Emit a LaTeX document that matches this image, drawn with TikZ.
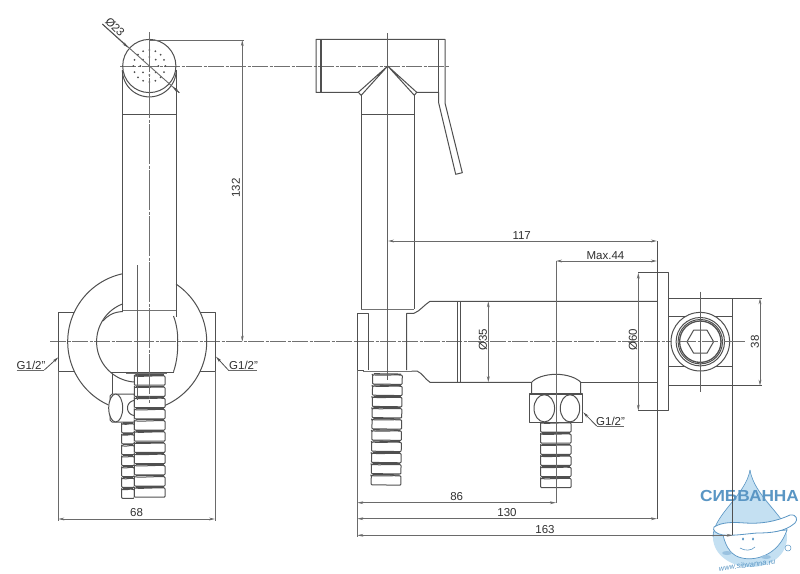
\documentclass[tikz,border=0pt]{standalone}
\usepackage{fontspec}
\setmainfont{Liberation Sans}
\usetikzlibrary{arrows.meta}
\definecolor{ln}{HTML}{505050}
\definecolor{cl}{HTML}{707070}
\definecolor{txt}{HTML}{303030}
\definecolor{lblue}{HTML}{C4E0F2}
\definecolor{mblue}{HTML}{5A96C4}
\tikzset{
  part/.style={draw=ln,line width=1pt,line join=round},
  heavy/.style={draw=ln,line width=1.6pt},
  centre/.style={draw=cl,line width=0.9pt,dash pattern=on 16pt off 1.5pt on 3pt off 1.5pt},
  ext/.style={draw=ln!85,line width=0.9pt},
  dimline/.style={draw=ln!85,line width=0.9pt,{Stealth[length=6pt,width=2.8pt]}-{Stealth[length=6pt,width=2.8pt]}},
  lead/.style={draw=ln,line width=0.8pt,-{Stealth[length=6pt,width=2.8pt]}},
  dimtext/.style={text=txt,font=\fontsize{11.5}{12}\selectfont,inner sep=0pt},
}
% mypart: arc in y-down picture coordinates
\newcommand\myarc[5]{plot[domain=#4:#5,samples=70] ({#1+#3*cos(\x)},{#2+#3*sin(\x)})}
% hose: x1 x2 ytop count pitch
\newcommand\myhose[5]{%
  \foreach \i in {1,...,#4}{%
    \pgfmathsetmacro\ya{#3+(\i-1)*#5}
    \pgfmathsetmacro\yb{\ya+#5-2}
    \fill[white] (#1,\ya) rectangle (#2,\yb+2);
    \draw[part,line width=1.3pt] (#1+1.2,\ya-1) -- (#2-1.2,\ya-1);
    \draw[part,line width=1pt,rounded corners=0.8pt] (#1,\ya) -- (#1,\yb) -- (#2,\yb) -- (#2,\ya) .. controls (#2-8,\ya-0.6) and (#1+8,\ya+0.8) .. cycle;
  }}
\begin{document}
\begin{tikzpicture}[x=1pt,y=-1pt]
\useasboundingbox (0,0) rectangle (800,573);
\fill[white] (0,0) rectangle (800,573);

% --- watermark logo
\fill[lblue] (750,470) .. controls (746,495) and (713,515) .. (713,537) .. controls (713,556) and (733,567) .. (750,567) .. controls (770,567) and (787,556) .. (787,537) .. controls (787,515) and (754,495) .. (750,470) -- cycle;
\draw[mblue,line width=0.6pt] (750,470) .. controls (746,495) and (713,515) .. (713,537);
\draw[mblue,line width=0.6pt] (750,470) .. controls (754,495) and (783,515) .. (787,530);
\draw[mblue,fill=white,line width=0.7pt] (723,535) .. controls (726,548) and (732,556) .. (742,558) .. controls (755,561) and (778,556) .. (787,530) -- cycle;
\draw[mblue,fill=white,line width=0.8pt] (714,527) .. controls (722,522) and (733,522) .. (745,523) .. controls (760,524) and (775,522) .. (790,515) .. controls (797,514) and (798,520) .. (795,523) .. controls (785,532) and (770,533) .. (757,533) .. controls (745,534) and (733,536) .. (723,535) .. controls (716,534) and (712,530) .. (714,527) -- cycle;
\fill[mblue] (743,539) ellipse [x radius=1.1,y radius=1.6] (753,539) ellipse [x radius=1.1,y radius=1.6];
\draw[mblue,line width=0.6pt] (740,548) .. controls (745,551) and (751,551) .. (755,547);
\fill[lblue!60!mblue] (727,553) ellipse [x radius=5,y radius=2] (766,557) ellipse [x radius=5,y radius=2];
\fill[white] (788,548) circle [radius=3];
\draw[mblue,line width=0.5pt] (788,548) circle [radius=3];
\node[rotate=7,text=mblue,font=\fontsize{7.5}{8}\selectfont\itshape,inner sep=0pt] (logourl) at (747,565) {www.sibvanna.ru};
\node[text=mblue,font=\fontsize{16}{17}\bfseries\selectfont,inner sep=0pt,xscale=1.08] (logoname) at (749.5,496) {СИБВАННА};

% --- centre lines
\draw[centre] (50,341.7) -- (745,341.7);
\draw[centre] (120,66) -- (450,66);

% --- LEFT VIEW: wall circle, tabs
\draw[part] \myarc{137.2}{341.7}{69.5}{114.6}{258};
\draw[part] \myarc{137.2}{341.7}{69.5}{-56}{66.4};
\draw[part] (74.2,312.3) -- (58.3,312.3) -- (58.3,371) -- (74.2,371);
\draw[part] (200.2,312.3) -- (215,312.3) -- (215,371) -- (200.2,371);
\draw[ext] (58.3,371) -- (58.3,521) (215,371) -- (215,521);

% head
\draw[part] (149.3,66) circle [radius=26.6];
\draw[part] \myarc{149.3}{70}{26.9}{0}{180};
\foreach \a in {0,22.5,...,337.5}{\fill[ln] ({149.3+16*cos(\a)},{66+16*sin(\a)}) circle [radius=1];}
\foreach \a in {0,45,...,315}{\fill[ln] ({149.3+9*cos(\a)},{66+9*sin(\a)}) circle [radius=1];}
% handle
\draw[part] (122.8,70) -- (122.8,312) (176,70) -- (176,317);
\draw[part] (122.8,114) -- (176,114);
\draw[heavy,draw=ln!80] (122.8,310.5) -- (175.5,310.5);

% sphere
\draw[part] \myarc{137}{341.7}{40.4}{94.5}{249.6};
\draw[part] (122.8,311.5) .. controls (113,312) and (107,316) .. (103,321);
\draw[part] (173.5,316) .. controls (177,325) and (178,335) .. (177.7,342) .. controls (178,350) and (177,362) .. (173.5,371.7);
\draw[part] (111,372) -- (173.5,372);
\draw[heavy,draw=ln!80] (126,373.5) -- (167,373.5);
\draw[part] (112.7,374) -- (112.7,394);

% back hose & fitting
\myhose{121.7}{134.3}{424}{7}{10.9}
\draw[part,fill=white] (110,396) -- (112,394) -- (134.3,394) -- (134.3,422) -- (112,422) -- (110,420) -- cycle;
\draw[part,fill=white] (115.7,408) ellipse [x radius=7,y radius=14];
\draw[part] \myarc{135}{408}{7.5}{80}{280};
% front hose
\draw[heavy,draw=ln!80] (135,375) -- (164,375);
\myhose{134.3}{165}{376}{11}{11.2}
\draw[ln!90,line width=0.9pt] (137,265) -- (137,400);
\draw[centre,dash pattern=on 40pt off 1.5pt on 3pt off 1.5pt] (149.3,32) -- (149.3,403);

% 23 dia
\coordinate (dA) at (102.3,24);
\coordinate (dB) at (128,47.5);
\coordinate (dC) at (172.5,86.5);
\coordinate (dD) at (179.3,92.7);
\draw[ext] (dA) -- (dD);
\draw[lead] (dA) -- (dB);
\draw[lead] (dD) -- (dC);
\node[dimtext,rotate=-45] (t23) at (115,27) {Ø23};

% 132
\draw[ext] (149.3,40) -- (244,40);
\coordinate (d132a) at (242.3,40);
\coordinate (d132b) at (242.3,341.7);
\draw[dimline] (d132a) -- (d132b);
\node[dimtext,rotate=90] (t132) at (236,188) {132};

% 68
\coordinate (d68a) at (58.3,519);
\coordinate (d68b) at (215,519);
\draw[dimline] (d68a) -- (d68b);
\node[dimtext] (t68) at (136.5,513) {68};

% G1/2 left / right
\node[dimtext,anchor=south west] (g1) at (16.5,369.5) {G1/2"};
\coordinate (g1a) at (44.3,370);
\coordinate (g1b) at (58.3,357.3);
\draw[ext] (16.7,370) -- (g1a);
\draw[lead] (g1a) -- (g1b);
\node[dimtext,anchor=south west] (g2) at (229,369.5) {G1/2"};
\coordinate (g2a) at (228.3,370);
\coordinate (g2b) at (216,356.7);
\draw[ext] (g2a) -- (256.7,370);
\draw[lead] (g2a) -- (g2b);

% --- SIDE VIEW: head
\draw[part] (358.3,92.3) -- (316,92.3) -- (316,39.3) -- (445,39.3) -- (445,103) -- (462.3,172.7) -- (455.7,174.3) -- (438.7,103) -- (438.7,92.3) -- (416.7,92.3);
\draw[part,line width=1.5pt] (321,39.3) -- (321,92.3);
\draw[part,line width=1.5pt] (438.7,39.3) -- (438.7,92.3);
\draw[part] (387.7,66) -- (358.3,92.3) -- (361.2,95.3) -- (387.7,66) -- (416.7,92.3) -- (414.3,95.3) -- cycle;
\draw[part] (361.2,95.3) -- (361.2,309) (414.3,95.3) -- (414.3,309);
\draw[part] (361.2,114.3) -- (414.3,114.3);
\draw[heavy,draw=ln!80] (361.2,309.5) -- (414.3,309.5);

% block
\draw[part] (357.3,370) -- (357.3,313.3) -- (368.3,313.3) -- (368.3,370);
\draw[part] (406.7,370) -- (406.7,313.3) -- (414,313.3) .. controls (420,311) and (424,305) .. (430,301.3) -- (657,301.3);
\draw[part] (457.7,301.3) -- (457.7,382.3) (460.3,301.3) -- (460.3,382.3);
\draw[part] (411.7,371) -- (417,371) .. controls (422,373) and (425,379) .. (430,382.3) -- (531.7,382.3);
\draw[part] (580.7,382.3) -- (657,382.3);
\draw[part] (357.3,370.5) -- (364,370.5);
\draw[heavy,draw=ln!80] (363,371.5) -- (412,371.5);
\draw[ext] (357.3,370) -- (357.3,536.5);

% side hose
\begin{scope}[rotate around={-0.8:(387.5,374)}]
\myhose{372.7}{402.3}{375}{10}{11.2}
\end{scope}
\draw[ln!90,line width=0.9pt] (387.7,33) -- (387.7,380);

% lower fitting
\draw[part] (531.7,394) -- (531.7,382.3) .. controls (535,378) and (545,374.3) .. (556,374.3) .. controls (567,374.3) and (577,378) .. (580.7,382.3) -- (580.7,394);
\myhose{540.7}{571}{423}{6}{11.1}
\draw[part,fill=white,line width=1.1pt] (529.7,394) -- (582.7,394) -- (582.7,422.3) -- (529.7,422.3) -- cycle;
\draw[part] (544.3,408.3) ellipse [x radius=10.3,y radius=13.6];
\draw[part] (570,408.3) ellipse [x radius=9.7,y radius=13.6];

% 35 dia
\coordinate (d35a) at (488.3,301.3);
\coordinate (d35b) at (488.3,382.3);
\draw[dimline] (d35a) -- (d35b);
\node[dimtext,rotate=90] (t35) at (483,340) {Ø35};

% G1/2 lower
\node[dimtext,anchor=south west] (g3) at (596,425.5) {G1/2"};
\coordinate (g3a) at (596.7,426);
\coordinate (g3b) at (583.3,412.3);
\draw[ext] (g3a) -- (624,426);
\draw[lead] (g3a) -- (g3b);

% flange
\draw[part] (638.3,272.7) -- (668.7,272.7) -- (668.7,410.7) -- (638.3,410.7);
\draw[part] (657,241) -- (657,519);
% fitting body
\draw[part] (668.7,298.3) -- (762,298.3) (668.7,385.7) -- (762,385.7);
\draw[part] (668.7,316.7) -- (732.7,316.7) (668.7,366.7) -- (732.7,366.7);
\draw[part] (732.7,298.3) -- (732.7,535.3);
\fill[white] (700.3,341.7) circle [radius=29];
\draw[part] (700.3,341.7) circle [radius=29.3];
\draw[part] (700.3,341.7) circle [radius=24.2];
\draw[part] (700.3,341.7) circle [radius=22.2];
\draw[part,line width=1.3pt] (700.3,341.7) circle [radius=20.7];
\draw[part] (687,341.7) -- (693.6,330.2) -- (707,330.2) -- (713.6,341.7) -- (707,353.2) -- (693.6,353.2) -- cycle;
\draw[centre] (680,341.7) -- (745,341.7);
\draw[ln!90,line width=0.9pt] (700.3,291.7) -- (700.3,391.7);

% 60 dia
\coordinate (d60a) at (638.3,272.7);
\coordinate (d60b) at (638.3,410.7);
\draw[dimline] (d60a) -- (d60b);
\node[dimtext,rotate=90] (t60) at (633,340) {Ø60};

% 38
\coordinate (d38a) at (760,298.3);
\coordinate (d38b) at (760,385.7);
\draw[dimline] (d38a) -- (d38b);
\node[dimtext,rotate=90] (t38) at (755,341.7) {38};

% 117
\coordinate (d117a) at (388,241);
\coordinate (d117b) at (657,241);
\draw[dimline] (d117a) -- (d117b);
\node[dimtext] (t117) at (521.7,235.5) {117};

% Max.44
\coordinate (dMa) at (556,261);
\coordinate (dMb) at (657,261);
\draw[dimline] (dMa) -- (dMb);
\draw[ext] (dMa) -- (556,503);
\node[dimtext] (tM) at (605.5,255.5) {Max.44};

% 86 130 163
\coordinate (d86a) at (357.3,502.7);
\coordinate (d86b) at (556,502.7);
\draw[dimline] (d86a) -- (d86b);
\node[dimtext] (t86) at (456.7,497) {86};
\coordinate (d130a) at (357.3,518.7);
\coordinate (d130b) at (657,518.7);
\draw[dimline] (d130a) -- (d130b);
\node[dimtext] (t130) at (507,513) {130};
\coordinate (d163a) at (357.3,535.3);
\coordinate (d163b) at (732.7,535.3);
\draw[dimline] (d163a) -- (d163b);
\node[dimtext] (t163) at (545,530) {163};
\end{tikzpicture}
\end{document}
